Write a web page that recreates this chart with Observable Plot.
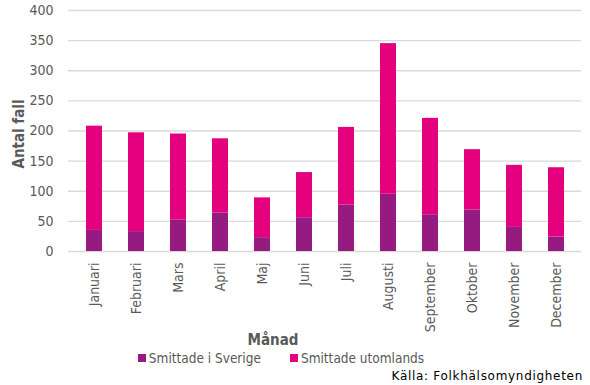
<!DOCTYPE html>
<html>
<head>
<meta charset="utf-8">
<script src="https://cdn.jsdelivr.net/npm/d3@7"></script>
<script src="https://cdn.jsdelivr.net/npm/@observablehq/plot@0.6"></script>
<style>
  body { margin: 0; background: #fff; font-family: "DejaVu Sans Condensed", "DejaVu Sans", sans-serif; }
  #wrap { position: relative; width: 590px; height: 385px; }
  #chart { position: absolute; top: 0; left: 0; }
  #legend { position: absolute; top: 350px; left: 0; width: 562px; display: flex; justify-content: center; gap: 29px; font-size: 13.5px; color: #595959; }
  #legend span.item { display: flex; align-items: center; }
  #legend span.sw { width: 8px; height: 8px; display: inline-block; margin-right: 3px; }
  #caption { position: absolute; top: 369px; right: 7px; font-family: "DejaVu Sans", sans-serif; font-size: 12px; letter-spacing: 0.7px; color: #000; white-space: pre; }
</style>
</head>
<body>
<div id="wrap">
  <div id="chart"></div>
  <div id="legend"></div>
  <div id="caption">Källa: Folkhälsomyndigheten</div>
</div>
<script>
const months = ["Januari","Februari","Mars","April","Maj","Juni","Juli","Augusti","September","Oktober","November","December"];
const seriesNames = ["Smittade i Sverige","Smittade utomlands"];
const sverige = [35,33,52,64,23,56,77,95,61,69,40,24];
const utomlands = [173,164,143,123,66,75,129,250,160,100,103,115];
const yTicks = [0,50,100,150,200,250,300,350,400];
const colors = ["#951B81","#E5007E"];

const rows = [];
months.forEach((m,i) => rows.push({month:m, series:seriesNames[0], value:sverige[i]}));
months.forEach((m,i) => rows.push({month:m, series:seriesNames[1], value:utomlands[i]}));

const chart = Plot.plot({
  width: 590,
  height: 350,
  marginTop: 10,
  marginLeft: 68,
  marginRight: 9,
  marginBottom: 99,
  style: {fontFamily: '"DejaVu Sans Condensed", "DejaVu Sans", sans-serif', fontSize: "14px", color: "#595959", background: "transparent"},
  x: {domain: months, type: "band", paddingInner: 0.625, paddingOuter: 0.3125, label: null},
  y: {domain: [0,400], label: null},
  color: {domain: seriesNames, range: colors},
  marks: [
    Plot.gridY(yTicks, {stroke: "#d9d9d9", strokeOpacity: 1, strokeWidth: 1.3}),
    Plot.axisY(yTicks, {tickSize: 0, tickPadding: 15, label: null, fill: "#595959", fontSize: 14}),
    Plot.axisX({tickSize: 0, tickPadding: 11, tickRotate: -90, label: null, fill: "#595959", fontSize: 14}),
    Plot.barY(rows, {x: "month", y: "value", fill: "series"}),
    Plot.text(["Antal fall"], {frameAnchor: "left", textAnchor: "middle", lineAnchor: "middle", dx: -49, dy: 3, rotate: -90, fill: "#595959", fontWeight: "bold", fontSize: 15}),
    Plot.text(["Månad"], {frameAnchor: "bottom", textAnchor: "middle", lineAnchor: "middle", dx: -52, dy: 89, fill: "#595959", fontWeight: "bold", fontSize: 15})
  ]
});
document.getElementById("chart").appendChild(chart);

const legend = document.getElementById("legend");
seriesNames.forEach((s,i) => {
  const it = document.createElement("span");
  it.className = "item";
  const sw = document.createElement("span");
  sw.className = "sw";
  sw.style.background = colors[i];
  it.appendChild(sw);
  it.appendChild(document.createTextNode(s));
  legend.appendChild(it);
});
</script>
</body>
</html>
